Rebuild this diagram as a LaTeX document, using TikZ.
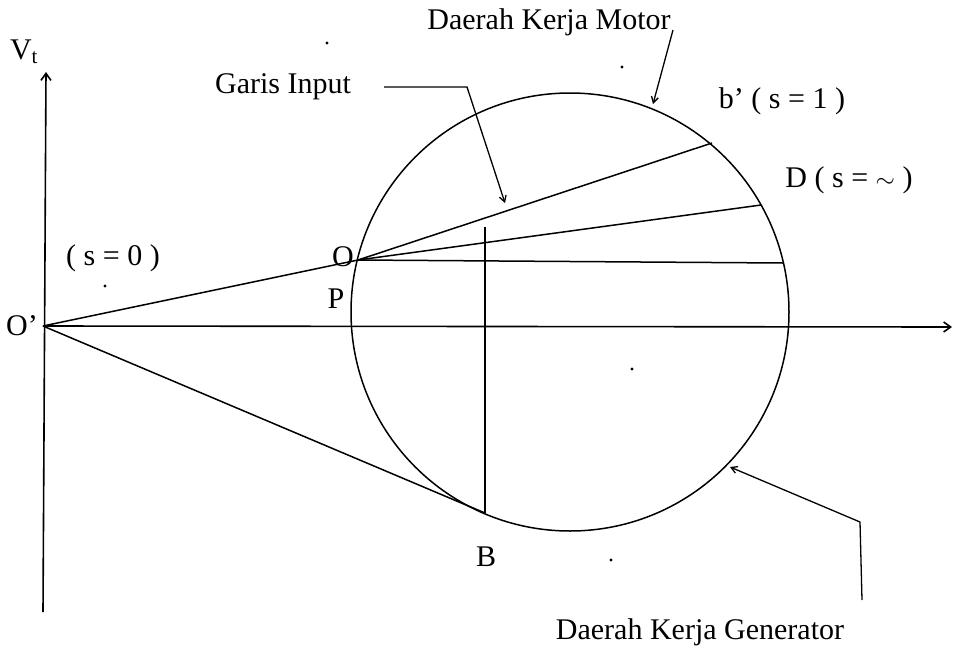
\documentclass[tikz,border=0pt]{standalone}
\usepackage{fontspec}
\setmainfont{Liberation Serif}
\usetikzlibrary{arrows.meta}
\usetikzlibrary{calc}

\begin{document}
\begin{tikzpicture}[x=1pt,y=-1pt,
    txt/.style={font=\fontsize{30}{33}\selectfont, inner sep=0pt},
    axis/.style={line width=1.6pt, -{Straight Barb[length=7pt,width=10pt]}},
    ln/.style={line width=1.5pt},
    pointer/.style={line width=1.3pt, -{Straight Barb[length=6pt,width=7pt]}}]
    \useasboundingbox (0,0) rectangle (956,651);

    % main points
    \coordinate (Op) at (43,326);
    \coordinate (O) at (358,260);
    \coordinate (M) at (570,312);
    \coordinate (B) at (485,513);
    \coordinate (Bup) at (485,227);
    \coordinate (bp) at (712,143);
    \coordinate (D) at (761,205);
    \coordinate (E) at (783,263);
    \coordinate (vbot) at (43,612);
    \coordinate (vtop) at (46,72);
    \coordinate (hend) at (952,327);

    % axes
    \draw[axis] (vbot) -- (vtop);
    \draw[axis] (Op) -- (hend);

    % circle and lines
    \draw[ln] (M) circle[radius=219pt];
    \draw[ln] (Op) -- (O);
    \draw[ln] (Op) -- (B);
    \draw[ln] (O) -- (bp);
    \draw[ln] (O) -- (D);
    \draw[ln] (O) -- (E);
    \draw[ln] (Bup) -- (B);

    % labels
    \node[txt] (vt) at (24,52) {V\textsubscript{t}};
    \node[txt] (lOp) at (22,326) {O’};
    \node[txt] (s0) at (113,258) {( s = 0 )};
    \node[txt] (lO) at (343,257) {O};
    \node[txt] (lP) at (336,299) {P};
    \node[txt] (lB) at (486,557) {B};
    \node[txt] (lbp) at (782,101) {b’ ( s = 1 )};
    \node[txt] (lD) at (849,180) {D ( s = $\sim$ )};
    \node[txt] (gi) at (283,87) {Garis Input};
    \node[txt] (mot) at (549,22) {Daerah Kerja Motor};
    \node[txt] (gen) at (700,632) {Daerah Kerja Generator};

    % pointers
    \coordinate (giA) at (467,87);
    \coordinate (giTip) at (505,203);
    \draw[pointer] ([xshift=33pt]gi.east) -- (giA) -- (giTip);
    \coordinate (motA) at (673,30);
    \coordinate (motTip) at (653,104);
    \draw[pointer] (motA) -- (motTip);
    \coordinate (genA) at (860,522);
    \coordinate (genB) at (862,600);
    \coordinate (genTip) at (730,467);
    \draw[pointer] (genB) -- (genA) -- (genTip);

    % specks
    \foreach \p in {(105,286),(327,43),(622,67),(632,369),(611,560)}
        \fill \p circle[radius=1.6pt];
\end{tikzpicture}
\end{document}
